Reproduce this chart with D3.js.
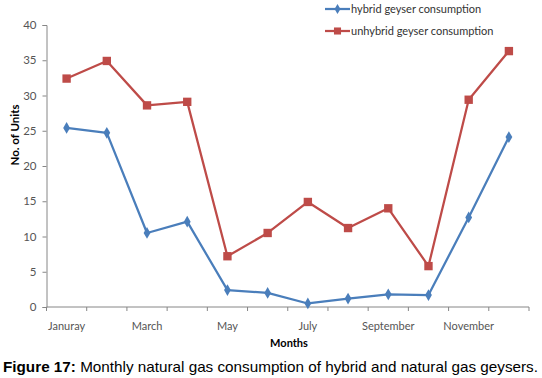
<!DOCTYPE html>
<html><head><meta charset="utf-8">
<script src="https://cdn.jsdelivr.net/npm/d3@7"></script>
<style>body{margin:0;background:#fff}svg{display:block}</style>
</head><body>
<script>
const months = ["Januray","February","March","April","May","June","July","August","September","October","November","December"];
const monthLabels = ["Januray","","March","","May","","July","","September","","November",""];
const hybrid = [25.4,24.7,10.5,12.1,2.4,2.0,0.5,1.2,1.8,1.7,12.7,24.1];
const unhybrid = [32.4,34.9,28.6,29.1,7.2,10.5,14.9,11.2,14.0,5.8,29.4,36.3];
const seriesNames = ["hybrid geyser consumption","unhybrid geyser consumption"];
const yTicks = [0,5,10,15,20,25,30,35,40];

const W=542,H=378;
const svg=d3.select("body").append("svg").attr("width",W).attr("height",H);
const x=d3.scaleBand().domain(months).range([46.5,529]);
const y=d3.scaleLinear().domain([0,40]).range([307,25]);
const font="Lato, 'Open Sans', sans-serif";
const axisCol="#868686";

// y axis
const ya=svg.append("g").attr("transform","translate(46.5,0)")
  .call(d3.axisLeft(y).tickValues(yTicks).tickSize(4).tickPadding(6));
ya.select(".domain").attr("stroke",axisCol);
ya.selectAll(".tick line").attr("stroke",axisCol);
ya.selectAll("text").attr("fill","#555").style("font-family",font).style("font-size","11.5px");

// x axis
const xa=svg.append("g").attr("transform","translate(0,307)");
xa.append("line").attr("x1",46.5).attr("x2",529).attr("stroke",axisCol);
const edges=months.map(m=>x(m)).concat([x.range()[1]]);
xa.selectAll(".tk").data(edges).join("line").attr("x1",d=>d).attr("x2",d=>d).attr("y1",0).attr("y2",4).attr("stroke",axisCol);
xa.selectAll(".lb").data(months).join("text")
  .attr("x",d=>x(d)+x.bandwidth()/2).attr("y",23).attr("text-anchor","middle")
  .attr("fill","#555").style("font-family",font).style("font-size","11px")
  .text((d,i)=>monthLabels[i]);

// axis titles
svg.append("text").attr("transform","translate(19,135) rotate(-90)").attr("text-anchor","middle")
  .style("font-family",font).style("font-size","11.5px").style("font-weight","bold").attr("fill","#000").text("No. of Units");
svg.append("text").attr("x",289).attr("y",347).attr("text-anchor","middle")
  .style("font-family",font).style("font-size","11px").style("font-weight","bold").attr("fill","#000").text("Months");

const colors=["#4A7EBB","#BE4B48"];
const line=d3.line().x((d,i)=>x(months[i])+x.bandwidth()/2).y(d=>y(d));
[hybrid,unhybrid].forEach((s,k)=>{
  svg.append("path").datum(s).attr("d",line).attr("fill","none").attr("stroke",colors[k]).attr("stroke-width",2.25).attr("stroke-linejoin","round");
  svg.selectAll(".m"+k).data(s).join("path")
    .attr("transform",(d,i)=>`translate(${x(months[i])+x.bandwidth()/2},${y(d)})`)
    .attr("d",k===0? d3.symbol(d3.symbolDiamond,40)() : d3.symbol(d3.symbolSquare,70)())
    .attr("fill",colors[k]);
});

// legend
seriesNames.forEach((n,k)=>{
  const ly=k===0?9:31;
  const g=svg.append("g");
  g.append("line").attr("x1",325).attr("x2",350).attr("y1",ly).attr("y2",ly).attr("stroke",colors[k]).attr("stroke-width",2.25);
  g.append("path").attr("transform",`translate(337.5,${ly})`).attr("d",k===0? d3.symbol(d3.symbolDiamond,30)() : d3.symbol(d3.symbolSquare,50)()).attr("fill",colors[k]);
  g.append("text").attr("x",351).attr("y",ly+4).style("font-family",font).style("font-size","11px").attr("fill","#333").text(n);
});

// caption
const cap=svg.append("text").attr("x",3).attr("y",372).attr("textLength",535).attr("lengthAdjust","spacingAndGlyphs")
  .style("font-family","'Liberation Sans', Arial, sans-serif").style("font-size","15px").attr("fill","#000");
cap.append("tspan").style("font-weight","bold").text("Figure 17:");
cap.append("tspan").text(" Monthly natural gas consumption of hybrid and natural gas geysers.");
</script>
</body></html>
